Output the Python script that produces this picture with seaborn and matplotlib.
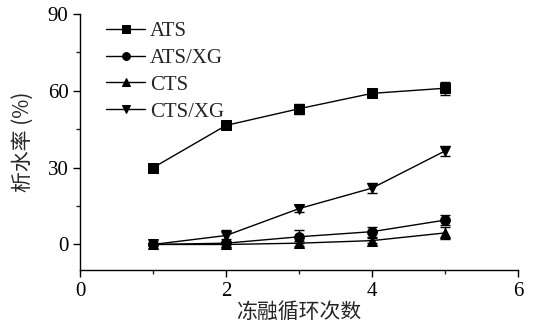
import pandas as pd
import matplotlib
matplotlib.use("Agg")
import matplotlib.pyplot as plt
import seaborn as sns
from matplotlib.ticker import MultipleLocator

# Data
cycles = [1, 2, 3, 4, 5]
series_names = ["ATS", "ATS/XG", "CTS", "CTS/XG"]
ats = [30, 46.5, 53, 59, 61]
ats_err = [0, 1.5, 2, 1.5, 2.5]
ats_xg = [0, 0.5, 3, 5, 9.5]
ats_xg_err = [0.5, 1.5, 2.5, 2, 2]
cts = [0, 0, 0.5, 1.5, 4.5]
cts_err = [0, 1, 1, 1, 2.5]
cts_xg = [0, 3.5, 14, 22, 36.5]
cts_xg_err = [0, 2, 1.5, 2, 2]

values = [ats, ats_xg, cts, cts_xg]
errors = [ats_err, ats_xg_err, cts_err, cts_xg_err]
markers = ["s", "o", "^", "v"]

rows = []
for name, vals, errs in zip(series_names, values, errors):
    for c, v, e in zip(cycles, vals, errs):
        rows.append({"cycle": c, "value": v, "err": e, "sample": name})
df = pd.DataFrame(rows)

sns.set_style("ticks")
plt.rcParams["font.family"] = ["Liberation Serif", "Noto Sans CJK SC"]
plt.rcParams["xtick.direction"] = "out"
plt.rcParams["ytick.direction"] = "out"

fig = plt.figure(figsize=(5.35, 3.25), dpi=100)
ax = fig.add_axes([0.15, 0.169, 0.818, 0.788])

sns.lineplot(data=df, x="cycle", y="value", style="sample", markers=markers,
             dashes=False, color="black", linewidth=1.0, markersize=7,
             markeredgecolor="black", ax=ax)

# error bars
for name in series_names:
    sub = df[df["sample"] == name]
    ax.errorbar(sub["cycle"], sub["value"], yerr=sub["err"], fmt="none",
                ecolor="black", elinewidth=1.0, capsize=3.5, capthick=1.0)

ax.set_xlim(0, 6)
ax.set_ylim(-10, 90)
ax.xaxis.set_major_locator(MultipleLocator(2))
ax.xaxis.set_minor_locator(MultipleLocator(1))
ax.yaxis.set_major_locator(MultipleLocator(30))
ax.yaxis.set_minor_locator(MultipleLocator(15))
ax.tick_params(which="major", length=5, width=1, labelsize=15, colors="black")
ax.tick_params(which="minor", length=3, width=1)
sns.despine(ax=ax)
for s in ["left", "bottom"]:
    ax.spines[s].set_linewidth(1.0)
    ax.spines[s].set_color("black")

ax.set_xlabel("冻融循环次数", fontsize=15, family=["Noto Sans CJK SC"], labelpad=0)
ax.set_ylabel("析水率 (%)", fontsize=15, family=["Noto Sans CJK SC", "Liberation Serif"], labelpad=10)

leg = ax.legend(loc="upper left", frameon=False, fontsize=15, handlelength=1.9,
                handletextpad=0.2, labelspacing=0.35, borderaxespad=0.2,
                markerscale=0.8, bbox_to_anchor=(0.03, 1.02))

fig.savefig("out.png", dpi=100)
